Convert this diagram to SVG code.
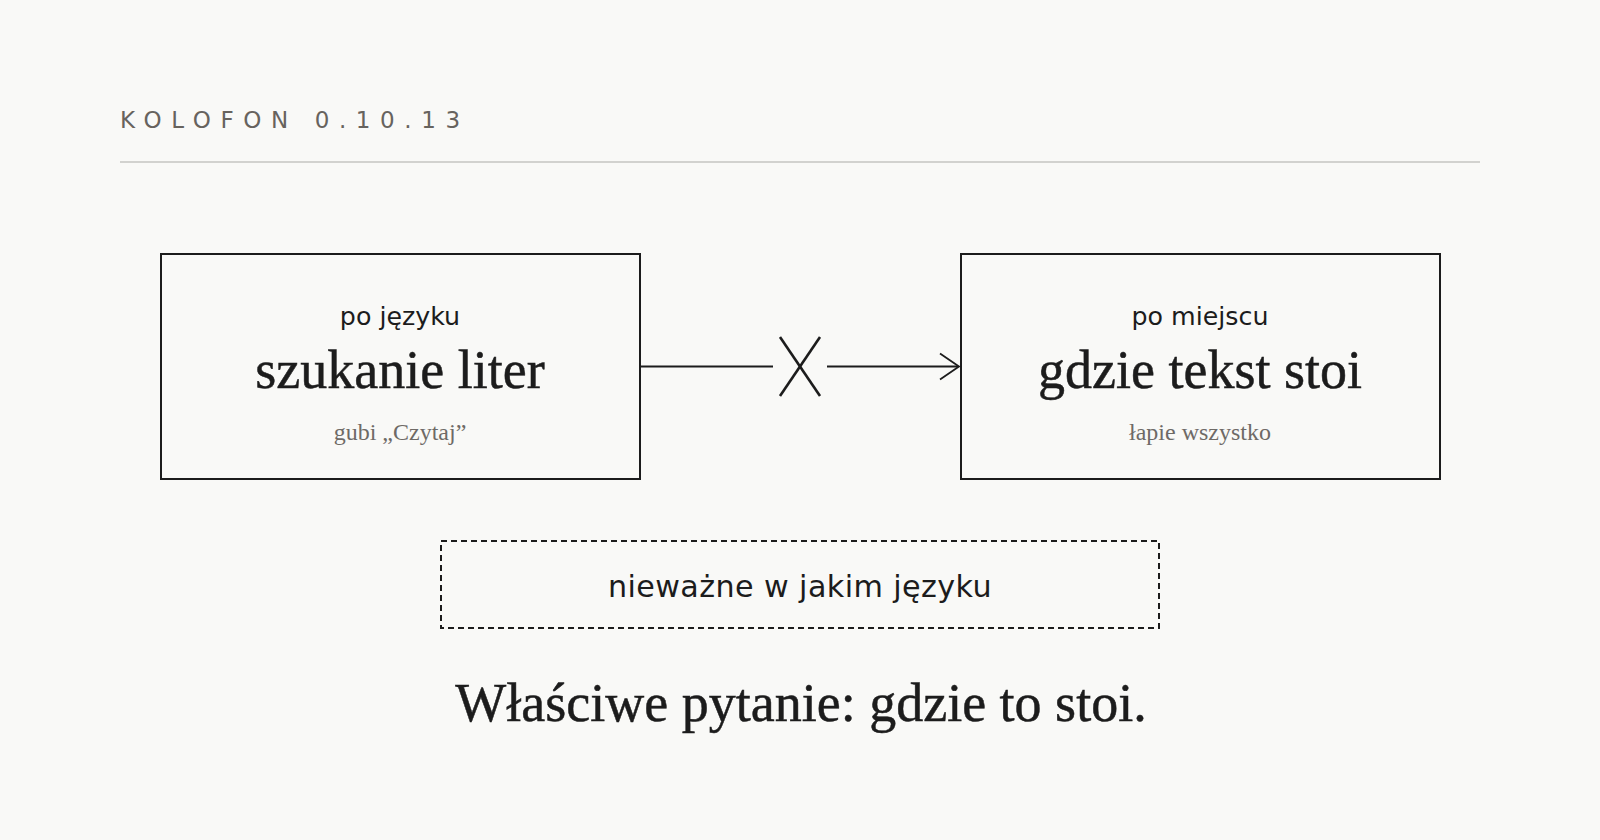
<svg xmlns="http://www.w3.org/2000/svg" width="1600" height="840" viewBox="0 0 1600 840">
  <style>
    .bg { fill: #f9f9f7; }
    .box { fill: #f9f9f7; stroke: #1c1c1c; stroke-width: 2; }
    .dash { fill: none; stroke: #1c1c1c; stroke-width: 2; stroke-dasharray: 6 4; }
    .sans { font-family: "DejaVu Sans", "Noto Sans", sans-serif; fill: #1c1c1c; text-anchor: middle; }
    .serif { font-family: "Liberation Serif", "Times New Roman", serif; text-anchor: middle; }
    .title { font-family: "DejaVu Sans", "Noto Sans", sans-serif; font-size: 23px; letter-spacing: 9.6px; fill: #67635e; }
    .big { font-size: 54px; fill: #1c1c1c; stroke: #1c1c1c; stroke-width: 0.5; }
    .sub { font-size: 24px; fill: #6e6a66; }
    .conn { stroke: #1c1c1c; stroke-width: 1.8; fill: none; }
    .cross { stroke: #1c1c1c; stroke-width: 2.6; fill: none; }
  </style>
  <rect class="bg" x="0" y="0" width="1600" height="840"/>

  <g id="header">
    <text class="title" x="120" y="128">KOLOFON 0.10.13</text>
    <line x1="120" y1="162" x2="1480" y2="162" stroke="#c4c4c2" stroke-width="1.5"/>
  </g>

  <g id="node-language">
    <rect class="box" x="161" y="254" width="479" height="225"/>
    <text class="sans" x="400" y="325" font-size="25.3">po języku</text>
    <text class="serif big" x="400" y="388">szukanie liter</text>
    <text class="serif sub" x="400" y="440">gubi „Czytaj”</text>
  </g>

  <g id="node-place">
    <rect class="box" x="961" y="254" width="479" height="225"/>
    <text class="sans" x="1200" y="325" font-size="25.3">po miejscu</text>
    <text class="serif big" x="1200" y="388" font-size="54.6">gdzie tekst stoi</text>
    <text class="serif sub" x="1200" y="440">łapie wszystko</text>
  </g>

  <g id="connectors">
    <line class="conn" x1="640" y1="366.5" x2="773" y2="366.5"/>
    <line class="cross" x1="780" y1="337" x2="820" y2="396"/>
    <line class="cross" x1="820" y1="337" x2="780" y2="396"/>
    <line class="conn" x1="827" y1="366.5" x2="958" y2="366.5"/>
    <polyline class="conn" points="940,353.5 959,366.5 940,379.5"/>
  </g>

  <g id="node-note">
    <rect class="dash" x="441" y="541" width="718" height="87"/>
    <text class="sans" x="800" y="597" font-size="30.2" letter-spacing="0.4">nieważne w jakim języku</text>
  </g>

  <g id="conclusion">
    <text class="serif big" x="801" y="721">Właściwe pytanie: gdzie to stoi.</text>
  </g>
</svg>
